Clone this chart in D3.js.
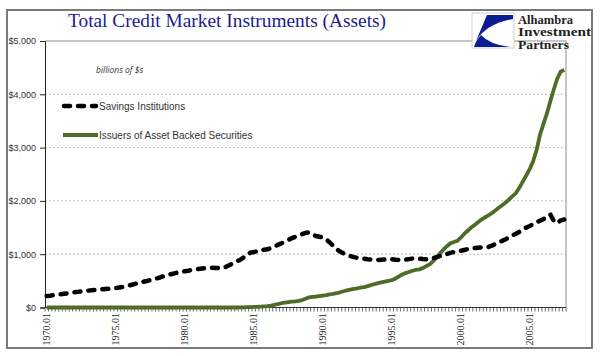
<!DOCTYPE html>
<html>
<head>
<meta charset="utf-8">
<script src="https://cdn.jsdelivr.net/npm/d3@7"></script>
<style>
html,body{margin:0;padding:0;background:#fff;}
svg{display:block;}
</style>
</head>
<body>
<svg id="chart" width="600" height="356"></svg>
<script>
// ---- DATA (quarterly, 1970.01 .. 2007.03), billions of $ ----
const years = d3.range(1970, 2008);
const quarters = ["01", "02", "03", "04"];
const categories = years.flatMap(y => quarters.map(q => y + "." + q)).slice(0, 151);

const savingsInstitutions = [
  216, 222, 230, 238,  248, 258, 266, 275,  285, 293, 300, 308,  316, 322, 328, 334,
  340, 346, 352, 358,  366, 375, 386, 398,  415, 432, 450, 466,  482, 498, 514, 529,
  548, 568, 590, 610,  625, 640, 656, 670,  680, 690, 702, 714,  722, 730, 738, 746,
  745, 742, 738, 740,  765, 797, 830, 865,  891, 935, 985, 1028, 1040, 1055, 1070, 1085,
  1092, 1115, 1145, 1175, 1204, 1235, 1265, 1300, 1325, 1350, 1375, 1400, 1411, 1380, 1340, 1328,
  1315, 1280, 1220, 1160, 1095, 1050, 1015, 990,  965, 945, 932, 922,  915, 905, 898, 891,
  893, 896, 900, 902,  904, 898, 893, 891,  898, 908, 918, 923,  915, 908, 904, 908,
  925, 945, 966, 985,  1005, 1025, 1042, 1050, 1065, 1080, 1095, 1105, 1115, 1122, 1128, 1133,
  1137, 1160, 1190, 1220, 1250, 1280, 1320, 1355, 1385, 1420, 1460, 1500, 1530, 1565, 1600, 1630,
  1660, 1690, 1742, 1620, 1586, 1635, 1650
];

const assetBackedIssuers = [
  0, 0, 0, 0,  0, 0, 0, 0,  0, 0, 0, 0,  0, 0, 0, 0,
  0, 0, 0, 0,  0, 0, 0, 0,  0, 0, 0, 0,  0, 0, 0, 0,
  0, 0, 0, 0,  0, 0, 0, 0,  0, 0, 0, 0,  0, 0, 0, 0,
  0, 0, 0, 0,  0, 0, 0, 0,  2, 4, 6, 8,  10, 13, 17, 21,
  26, 35, 48, 65,  80, 92, 102, 110,  115, 125, 140, 165,  190, 198, 205, 213,
  222, 232, 245, 255,  268, 285, 305, 320,  335, 348, 360, 375,  382, 400, 420, 440,
  456, 470, 485, 500,  512, 540, 580, 620,  645, 665, 690, 708,  715, 740, 775, 810,
  870, 940, 1017, 1090, 1150, 1204, 1230, 1250, 1310, 1380, 1440, 1500, 1545, 1600, 1650, 1690,
  1730, 1770, 1820, 1870, 1920, 1970, 2030, 2090, 2147, 2250, 2366, 2480, 2600, 2750, 2959, 3250,
  3450, 3646, 3880, 4100, 4301, 4430, 4457
];

const yTicks = [0, 1000, 2000, 3000, 4000, 5000];
const xTickLabels = ["1970.01", "1975.01", "1980.01", "1985.01", "1990.01", "1995.01", "2000.01", "2005.01"];
const seriesNames = ["Savings Institutions", "Issuers of Asset Backed Securities"];
const titleText = "Total Credit Market Instruments (Assets)";
const unitText = "billions of $s";
const logoLines = ["Alhambra", "Investment", "Partners"];
const logoWidths = [55, 73, 51];

// ---- DRAW ----
const svg = d3.select("#chart");
const M = {left: 45, right: 566, top: 41, bottom: 307.5};

// outer frame
svg.append("rect").attr("x", 7).attr("y", 10).attr("width", 585).attr("height", 338)
  .attr("fill", "#fff").attr("stroke", "#7a7a7a").attr("stroke-width", 2);

const x = d3.scaleBand().domain(categories).range([M.left, M.right]).padding(0);
const y = d3.scaleLinear().domain([0, 5000]).range([M.bottom, M.top]);
const cx = d => x(d) + x.bandwidth() / 2;

// gridlines
svg.append("g").selectAll("line").data(yTicks.filter(v => v > 0 && v < 5000)).join("line")
  .attr("x1", M.left).attr("x2", M.right)
  .attr("y1", d => y(d)).attr("y2", d => y(d))
  .attr("stroke", "#bdbdbd").attr("stroke-width", 1).attr("stroke-dasharray", "2,2");

// plot-area border (top & right)
svg.append("path")
  .attr("d", `M${M.left},${y(5000)}H${M.right}V${M.bottom}`)
  .attr("fill", "none").attr("stroke", "#8c8c8c").attr("stroke-width", 1);

// y axis
const yAxis = d3.axisLeft(y).tickValues(yTicks).tickSize(5).tickPadding(4)
  .tickFormat(d => "$" + d3.format(",")(d));
const gy = svg.append("g").attr("transform", `translate(${M.left},0)`).call(yAxis);
gy.select(".domain").attr("stroke", "#222");
gy.selectAll(".tick line").attr("stroke", "#222");
gy.selectAll("text").attr("font-family", "Liberation Sans, Arial, sans-serif")
  .attr("font-size", 9).attr("fill", "#333");

// x axis: tick at every category boundary
const gx = svg.append("g").attr("transform", `translate(0,${M.bottom})`);
gx.append("line").attr("x1", M.left).attr("x2", M.right).attr("y1", 0).attr("y2", 0)
  .attr("stroke", "#333").attr("stroke-width", 1);
gx.selectAll("line.tk").data(categories).join("line").attr("class", "tk")
  .attr("x1", d => x(d) + x.bandwidth()).attr("x2", d => x(d) + x.bandwidth())
  .attr("y1", 0).attr("y2", 4).attr("stroke", "#444").attr("stroke-width", 0.8);
gx.append("line").attr("x1", M.left).attr("x2", M.left).attr("y1", 0).attr("y2", 4)
  .attr("stroke", "#444").attr("stroke-width", 0.8);
gx.selectAll("text").data(xTickLabels).join("text")
  .attr("transform", d => `translate(${cx(d) + 3.5},5.5) rotate(-90)`)
  .attr("text-anchor", "end")
  .attr("font-family", "Liberation Serif, Times New Roman, serif")
  .attr("font-size", 10).attr("fill", "#222")
  .text(d => d);

// lines
const lineGen = vals => d3.line().x((d, i) => cx(categories[i])).y(d => y(d)).curve(d3.curveLinear)(vals);
svg.append("path").attr("d", lineGen(assetBackedIssuers))
  .attr("fill", "none").attr("stroke", "#4f6b28").attr("stroke-width", 3.8)
  .attr("stroke-linejoin", "round");
svg.append("path").attr("d", lineGen(savingsInstitutions))
  .attr("fill", "none").attr("stroke", "#000").attr("stroke-width", 4.5)
  .attr("stroke-dasharray", "6,8").attr("stroke-linecap", "round").attr("stroke-linejoin", "round");

// legend
const lg = svg.append("g");
lg.append("line").attr("x1", 64).attr("x2", 96).attr("y1", 106).attr("y2", 106)
  .attr("stroke", "#000").attr("stroke-width", 4.5).attr("stroke-dasharray", "6,8").attr("stroke-linecap", "round");
lg.append("text").attr("x", 99).attr("y", 109.5).text(seriesNames[0]);
lg.append("line").attr("x1", 63).attr("x2", 98).attr("y1", 135).attr("y2", 135)
  .attr("stroke", "#4f6b28").attr("stroke-width", 3.8);
lg.append("text").attr("x", 99).attr("y", 138.5).text(seriesNames[1]);
lg.selectAll("text").attr("font-family", "Liberation Sans, Arial, sans-serif")
  .attr("font-size", 10).attr("fill", "#333");

// unit label
svg.append("text").attr("x", 96).attr("y", 73).text(unitText)
  .attr("font-family", "Open Sans, Liberation Sans, sans-serif").attr("font-style", "italic")
  .attr("font-size", 8.5).attr("fill", "#333");

// title
svg.append("text").attr("x", 68).attr("y", 27).text(titleText)
  .attr("font-family", "Liberation Serif, Times New Roman, serif")
  .attr("font-size", 19).attr("fill", "#1c1c8c")
  .attr("textLength", 318).attr("lengthAdjust", "spacingAndGlyphs");

// logo
const logo = svg.append("g");
logo.append("rect").attr("x", 472).attr("y", 13).attr("width", 42).attr("height", 35)
  .attr("fill", "#fff").attr("stroke", "#cfcfcf").attr("stroke-width", 1);
logo.append("path").attr("d", "M487,15 L513,15 L513,19 Q486,24 476,41 Z").attr("fill", "#0b1d94");
logo.append("path").attr("d", "M474,47 L511,47 Q490,45 481,35 Q476,40 474,47 Z").attr("fill", "#0b1d94");
logo.selectAll("text.l").data(logoLines).join("text").attr("class", "l")
  .attr("x", 518).attr("y", (d, i) => 23.5 + i * 12.5).text(d => d)
  .attr("textLength", (d, i) => logoWidths[i]).attr("lengthAdjust", "spacingAndGlyphs")
  .attr("font-family", "Liberation Serif, Times New Roman, serif")
  .attr("font-size", 12).attr("font-weight", "bold").attr("fill", "#222");
</script>
</body>
</html>
